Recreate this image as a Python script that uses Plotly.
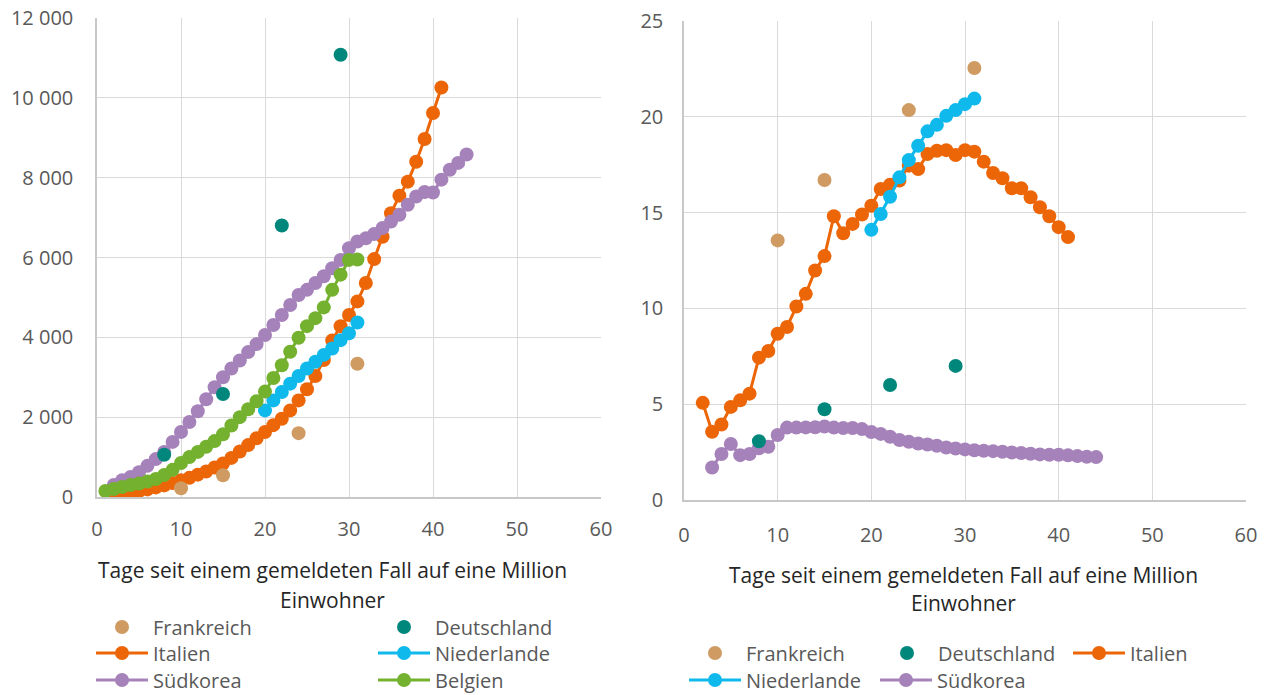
import plotly.graph_objects as go

# ---------------- data ----------------
# Left chart (cumulative values) -------------------------------
fr_days_l = [10, 15, 24, 31]
fr_vals_l = [220, 545, 1600, 3340]

de_days_l = [8, 15, 22, 29]
de_vals_l = [1060, 2580, 6800, 11080]

it_days = list(range(2, 42))
it_vals_l = [50, 80, 110, 150, 190, 240, 290, 350, 420, 480,
             560, 640, 740, 840, 980, 1140, 1300, 1470, 1630, 1800,
             1960, 2170, 2420, 2700, 3030, 3430, 3920, 4280, 4560, 4900,
             5360, 5960, 6520, 7110, 7550, 7900, 8400, 8970, 9620, 10260]

nl_days = list(range(20, 32))
nl_vals_l = [2170, 2420, 2630, 2840, 3030, 3220, 3390, 3560, 3720, 3930, 4100, 4370]

kr_days_l = list(range(2, 45))
kr_vals_l = [300, 420, 500, 620, 780, 950, 1130, 1380, 1630, 1880,
             2150, 2450, 2750, 3000, 3220, 3420, 3630, 3830, 4060, 4310,
             4560, 4810, 5060, 5190, 5360, 5530, 5730, 5940, 6230, 6400,
             6480, 6590, 6740, 6900, 7070, 7320, 7530, 7640, 7630, 7950,
             8200, 8370, 8580]

be_days = list(range(1, 32))
be_vals_l = [150, 200, 250, 300, 340, 390, 450, 550, 680, 850,
             1000, 1130, 1260, 1400, 1570, 1790, 2000, 2200, 2400, 2640,
             2980, 3300, 3640, 3990, 4280, 4480, 4750, 5190, 5570, 5940, 5950]

# Right chart (percent values) ---------------------------------
fr_days_r = [10, 15, 24, 31]
fr_vals_r = [13.55, 16.7, 20.35, 22.55]

de_days_r = [8, 15, 22, 29]
de_vals_r = [3.07, 4.74, 6.0, 7.0]

it_vals_r = [5.07, 3.56, 3.94, 4.86, 5.2, 5.55, 7.43, 7.78, 8.68, 9.03,
             10.1, 10.76, 11.98, 12.73, 14.81, 13.92, 14.41, 14.9, 15.36, 16.23,
             16.46, 16.67, 17.45, 17.27, 18.06, 18.23, 18.26, 18.0, 18.26, 18.18,
             17.66, 17.07, 16.79, 16.27, 16.27, 15.8, 15.28, 14.81, 14.24, 13.72]

nl_vals_r = [14.1, 14.93, 15.83, 16.84, 17.74, 18.49, 19.24, 19.58, 20.05, 20.35, 20.66, 20.95]

kr_days_r = list(range(3, 45))
kr_vals_r = [1.70, 2.40, 2.92, 2.34, 2.40, 2.70, 2.78, 3.39, 3.78, 3.78,
             3.79, 3.80, 3.84, 3.78, 3.76, 3.76, 3.70, 3.55, 3.45, 3.30,
             3.13, 3.04, 2.95, 2.90, 2.83, 2.74, 2.69, 2.64, 2.60, 2.57,
             2.55, 2.52, 2.48, 2.45, 2.41, 2.38, 2.36, 2.36, 2.33, 2.29,
             2.26, 2.24]

x_title_line1 = "Tage seit einem gemeldeten Fall auf eine Million"
x_title_line2 = "Einwohner"

names = {"fr": "Frankreich", "de": "Deutschland", "it": "Italien",
         "nl": "Niederlande", "kr": "Südkorea", "be": "Belgien"}

# ---------------- style ----------------
W, H = 1266, 695
FONT = "Open Sans"
colors = {"fr": "#CF9B62", "de": "#00877C", "it": "#EC6608",
          "nl": "#10B9EC", "kr": "#A682BA", "be": "#73B12E"}
MS = 14
LW = 3


def px_x(p):
    return p / W


def px_y(p):
    return 1 - p / H


fig = go.Figure()


def add(key, x, y, axis, legend, lines=True):
    xa, ya = axis
    fig.add_trace(go.Scatter(
        x=x, y=y, name=names[key], xaxis=xa, yaxis=ya,
        mode="lines+markers" if lines else "markers",
        line=dict(color=colors[key], width=LW),
        marker=dict(color=colors[key], size=MS),
        legend=legend, showlegend=True, hoverinfo="skip"))


L = ("x", "y")
R = ("x2", "y2")
# left chart: line series first, marker-only series drawn on top
add("it", it_days, it_vals_l, L, "legend3")
add("nl", nl_days, nl_vals_l, L, "legend4")
add("kr", kr_days_l, kr_vals_l, L, "legend5")
add("be", be_days, be_vals_l, L, "legend6")
add("fr", fr_days_l, fr_vals_l, L, "legend", lines=False)
add("de", de_days_l, de_vals_l, L, "legend2", lines=False)
# right chart
add("it", it_days, it_vals_r, R, "legend9")
add("nl", nl_days, nl_vals_r, R, "legend10")
add("kr", kr_days_r, kr_vals_r, R, "legend11")
add("fr", fr_days_r, fr_vals_r, R, "legend7", lines=False)
add("de", de_days_r, de_vals_r, R, "legend8", lines=False)

grid = "#D9D9D9"
tickfont = dict(family=FONT, size=20, color="#595959")

axis_common = dict(showgrid=True, gridcolor=grid, gridwidth=1.3,
                   showline=True, linecolor="#C8C8C8", linewidth=1.5,
                   zeroline=False, ticks="", tickfont=tickfont,
                   fixedrange=True, automargin=False)

lay = dict(
    width=W, height=H, margin=dict(l=0, r=0, t=0, b=0, autoexpand=False),
    paper_bgcolor="white", plot_bgcolor="white",
    separators=", ",
    showlegend=True,
    font=dict(family=FONT, size=20, color="#595959"),
    xaxis=dict(domain=[px_x(97), px_x(601)], range=[0, 60], dtick=10,
               anchor="y", ticklabelstandoff=13, **axis_common),
    yaxis=dict(domain=[px_y(497), px_y(18)], range=[0, 12000], dtick=2000,
               tickformat=",d", anchor="x", ticklabelstandoff=18, **axis_common),
    xaxis2=dict(domain=[px_x(684), px_x(1246)], range=[0, 60], dtick=10,
                anchor="y2", ticklabelstandoff=16, **axis_common),
    yaxis2=dict(domain=[px_y(500), px_y(21)], range=[0, 25], dtick=5,
                anchor="x2", ticklabelstandoff=15, **axis_common),
)

# one legend per entry, placed like the reference
leg_pos = {
    "legend": (91, 627), "legend2": (373, 627),
    "legend3": (91, 653), "legend4": (373, 653),
    "legend5": (91, 680), "legend6": (373, 680),
    "legend7": (684, 653), "legend8": (876, 653), "legend9": (1068, 653),
    "legend10": (684, 680), "legend11": (875, 680),
}
for k, (lx, ly) in leg_pos.items():
    lay[k] = dict(x=px_x(lx), y=px_y(ly), xanchor="left", yanchor="middle",
                  xref="paper", yref="paper", orientation="h",
                  bgcolor="rgba(0,0,0,0)", borderwidth=0, itemwidth=52,
                  font=dict(family=FONT, size=20, color="#595959"),
                  itemclick=False, itemdoubleclick=False)

fig.update_layout(**lay)

title_font = dict(family=FONT, size=21, color="#262626")
for cx, y1, y2 in [(332, 570, 600), (963, 575, 603)]:
    fig.add_annotation(x=px_x(cx), y=px_y(y1), xref="paper", yref="paper",
                       text=x_title_line1, showarrow=False, font=title_font,
                       xanchor="center", yanchor="middle")
    fig.add_annotation(x=px_x(cx), y=px_y(y2), xref="paper", yref="paper",
                       text=x_title_line2, showarrow=False, font=title_font,
                       xanchor="center", yanchor="middle")

fig.write_html(
    "out.html",
    config={"displayModeBar": False},
    post_script="document.body.style.margin='0';document.body.style.overflow='hidden';",
)
